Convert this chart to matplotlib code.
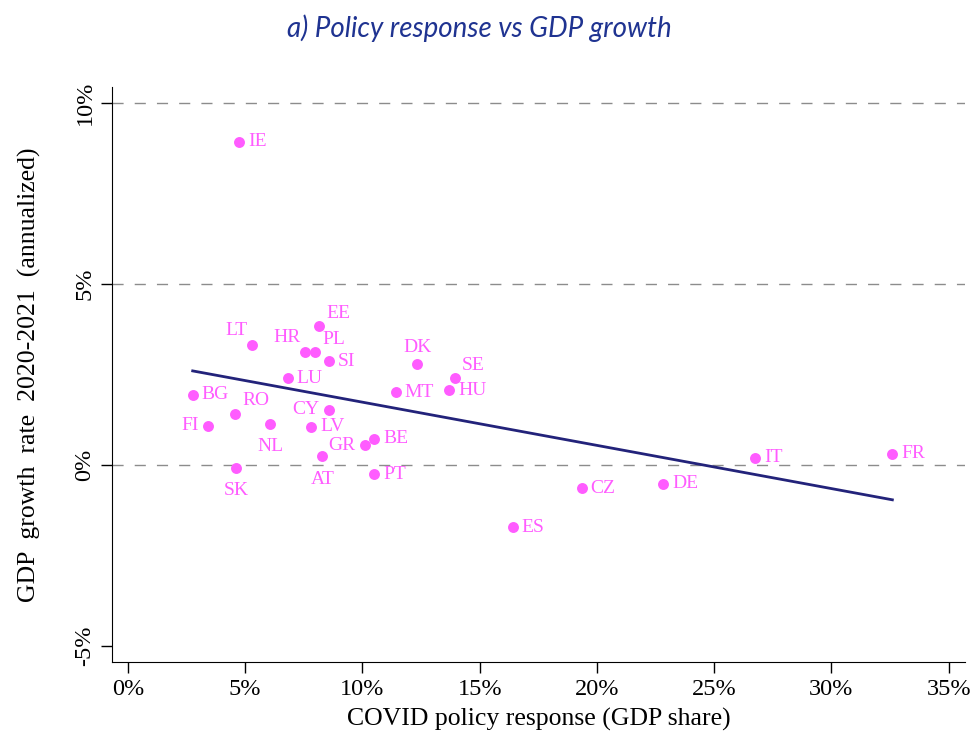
import numpy as np
import matplotlib
matplotlib.use('Agg')
import matplotlib.pyplot as plt

# datos por pais (respuesta COVID en % del PIB, crecimiento anualizado 2020-2021)
paises = ['IE', 'LT', 'EE', 'HR', 'PL', 'SI', 'LU', 'BG', 'RO', 'FI', 'NL', 'CY', 'LV',
          'GR', 'BE', 'AT', 'SK', 'PT', 'MT', 'DK', 'SE', 'HU', 'ES', 'CZ', 'DE', 'IT', 'FR']
respuesta = [4.74, 5.30, 8.15, 7.56, 7.98, 8.56, 6.81, 2.76, 4.56, 3.43, 6.06, 8.59, 7.81,
             10.11, 10.49, 8.29, 4.61, 10.49, 11.42, 12.34, 13.95, 13.69, 16.41, 19.35, 22.82, 26.75, 32.60]
crecimiento = [8.93, 3.31, 3.83, 3.12, 3.12, 2.86, 2.39, 1.94, 1.42, 1.09, 1.14, 1.53, 1.06,
               0.54, 0.73, 0.24, -0.08, -0.26, 2.01, 2.79, 2.39, 2.07, -1.72, -0.64, -0.52, 0.20, 0.31]

x_ticks = [0, 5, 10, 15, 20, 25, 30, 35]
y_ticks = [-5, 0, 5, 10]

# posicion de las etiquetas tipo reloj (como mlabvposition de Stata)
reloj = {'LT': 11, 'EE': 1, 'HR': 11, 'PL': 1, 'RO': 1, 'SE': 1, 'FI': 9, 'CY': 9,
         'GR': 9, 'NL': 6, 'AT': 6, 'SK': 6, 'DK': 12}
desplaz = {3: (9, 0, 'left', 'center'), 9: (-10, 0, 'right', 'center'),
           12: (0, 16, 'center', 'center'), 6: (0, -23, 'center', 'center'),
           1: (7, 13, 'left', 'center'), 11: (-5, 15, 'right', 'center')}

rosa = '#FF5CFF'
azul = '#23237A'

plt.rcParams['font.family'] = ['Liberation Serif', 'DejaVu Serif']

fig = plt.figure(figsize=(9.75, 7.44), dpi=100)
ax = fig.add_axes([0.1149, 0.1102, 0.8749, 0.7729])

# lineas punteadas horizontales
for y in [0, 5, 10]:
    ax.axhline(y, color='#8C8C8C', lw=1, dashes=(8, 8), zorder=1)

ax.scatter(respuesta, crecimiento, s=62, color=rosa, zorder=3, linewidths=0)

# recta ajustada
coef = np.polyfit(respuesta, crecimiento, 1)
xs = np.array([min(respuesta), max(respuesta)])
ax.plot(xs, np.polyval(coef, xs), color=azul, lw=2, zorder=2)

for p, xv, yv in zip(paises, respuesta, crecimiento):
    dx, dy, ha, va = desplaz[reloj.get(p, 3)]
    ax.annotate(p, (xv, yv), xytext=(dx, dy), textcoords='offset pixels',
                ha=ha, va=va, color=rosa, fontsize=14)

ax.set_xlim(-0.68, 35.7)
ax.set_ylim(-5.44, 10.44)
ax.set_xticks(x_ticks)
ax.set_xticklabels([f'{t}%' for t in x_ticks])
ax.set_yticks(y_ticks)
ax.set_yticklabels([f'{t}%' for t in y_ticks], rotation=90, va='center')
ax.tick_params(length=8, width=1, labelsize=17.5, color='black', pad=4)

ax.spines['top'].set_visible(False)
ax.spines['right'].set_visible(False)

ax.set_xlabel('COVID policy response (GDP share)', fontsize=18.5, labelpad=6)
ax.set_ylabel('GDP  growth  rate  2020-2021  (annualized)', fontsize=18.5, labelpad=24)

fig.text(0.492, 0.962, 'a) Policy response vs GDP growth', ha='center', va='center',
         fontsize=20, style='italic', color='#1F3391', family='Lato')

fig.savefig('out.png', dpi=100)
